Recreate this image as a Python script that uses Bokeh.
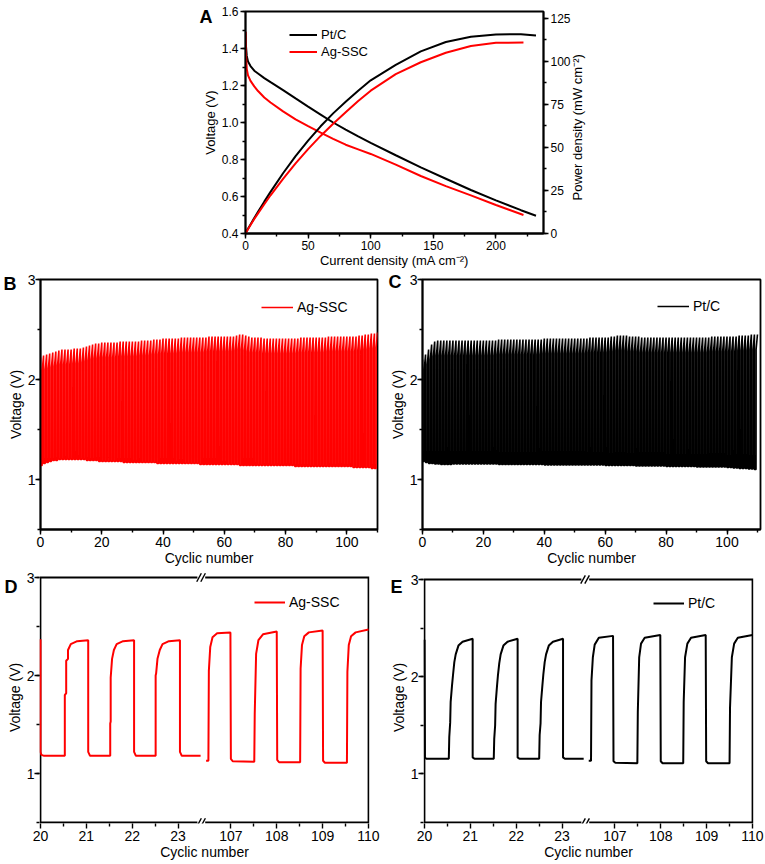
import math
import numpy as np
from bokeh.plotting import figure
from bokeh.layouts import column, row
from bokeh.models import (Range1d, LinearAxis, SingleIntervalTicker, FixedTicker, Legend,
                          LegendItem, CustomJSTickFormatter, PrintfTickFormatter)
from bokeh.embed import file_html
from bokeh.resources import INLINE

# ---------------- Panel A data (polarisation / power density) ----------------
CURRENT_PT = [0, 0.3, 1, 2, 4, 7, 10, 15, 20, 30, 40, 50, 60, 70, 80, 90, 100, 120, 140, 160, 180, 200, 220, 232]
VOLT_PT = [1.49, 1.42, 1.36, 1.33, 1.305, 1.28, 1.265, 1.24, 1.218, 1.175, 1.13, 1.086, 1.043, 1.0, 0.962,
           0.925, 0.89, 0.823, 0.757, 0.696, 0.635, 0.579, 0.526, 0.496]
POWER_PT = [0, 0.4, 1.4, 2.7, 5.2, 9.0, 12.6, 18.5, 24.2, 35.0, 45.0, 54.0, 62.3, 69.8, 76.5, 83.0, 89.0,
            98.0, 105.8, 111.3, 114.3, 115.7, 115.8, 115.0]
CURRENT_AG = [0, 0.3, 1, 2, 4, 7, 10, 15, 20, 30, 40, 50, 60, 70, 80, 90, 100, 120, 140, 160, 180, 200, 222]
VOLT_AG = [1.49, 1.38, 1.29, 1.255, 1.225, 1.195, 1.17, 1.135, 1.108, 1.06, 1.017, 0.98, 0.945, 0.912, 0.88,
           0.855, 0.83, 0.772, 0.711, 0.656, 0.606, 0.554, 0.5]
POWER_AG = [0, 0.4, 1.3, 2.5, 4.9, 8.4, 11.7, 17.0, 22.2, 31.8, 40.7, 49.0, 56.7, 63.8, 70.4, 77.0, 83.0,
            92.6, 99.5, 105.0, 109.0, 110.8, 111.0]

# ---------------- Panels B / C: per-cycle charge (high) and discharge (low) voltages ----------------
AG_HIGH = [2.22, 2.24, 2.25, 2.26, 2.27, 2.28, 2.29, 2.30, 2.30, 2.30,
           2.30, 2.31, 2.31, 2.31, 2.32, 2.33, 2.34, 2.35, 2.36, 2.36,
           2.37, 2.37, 2.37, 2.37, 2.37, 2.37, 2.38, 2.38, 2.38, 2.38,
           2.38, 2.38, 2.38, 2.39, 2.39, 2.39, 2.39, 2.40, 2.40, 2.40,
           2.41, 2.41, 2.41, 2.41, 2.41, 2.41, 2.42, 2.42, 2.42, 2.42,
           2.42, 2.42, 2.42, 2.42, 2.42, 2.43, 2.43, 2.43, 2.43, 2.43,
           2.43, 2.43, 2.43, 2.43, 2.44, 2.45, 2.45, 2.44, 2.43, 2.42,
           2.42, 2.42, 2.42, 2.41, 2.41, 2.41, 2.41, 2.41, 2.41, 2.41,
           2.41, 2.41, 2.41, 2.41, 2.41, 2.42, 2.42, 2.42, 2.42, 2.42,
           2.42, 2.42, 2.42, 2.42, 2.43, 2.43, 2.43, 2.43, 2.43, 2.43,
           2.43, 2.43, 2.43, 2.43, 2.44, 2.44, 2.45, 2.45, 2.46, 2.46,
           2.47]
AG_LOW = [1.14, 1.16, 1.17, 1.18, 1.19, 1.19, 1.20, 1.20, 1.20, 1.20,
          1.20, 1.20, 1.20, 1.20, 1.20, 1.19, 1.19, 1.19, 1.19, 1.18,
          1.18, 1.18, 1.18, 1.18, 1.18, 1.18, 1.18, 1.17, 1.17, 1.17,
          1.17, 1.17, 1.17, 1.17, 1.17, 1.17, 1.17, 1.17, 1.16, 1.16,
          1.16, 1.16, 1.16, 1.16, 1.16, 1.16, 1.16, 1.16, 1.16, 1.16,
          1.16, 1.16, 1.15, 1.15, 1.15, 1.15, 1.15, 1.15, 1.15, 1.15,
          1.15, 1.15, 1.15, 1.15, 1.15, 1.14, 1.14, 1.14, 1.14, 1.14,
          1.14, 1.14, 1.14, 1.14, 1.14, 1.14, 1.14, 1.14, 1.14, 1.14,
          1.14, 1.14, 1.14, 1.13, 1.13, 1.13, 1.13, 1.13, 1.13, 1.13,
          1.13, 1.13, 1.13, 1.13, 1.13, 1.13, 1.13, 1.13, 1.13, 1.13,
          1.13, 1.13, 1.12, 1.12, 1.12, 1.12, 1.12, 1.12, 1.11, 1.11,
          1.11]
PT_HIGH = [2.20, 2.25, 2.30, 2.35, 2.38, 2.39, 2.39, 2.39, 2.39, 2.39,
           2.39, 2.39, 2.39, 2.39, 2.39, 2.39, 2.39, 2.39, 2.39, 2.39,
           2.39, 2.39, 2.39, 2.39, 2.39, 2.40, 2.40, 2.40, 2.40, 2.40,
           2.40, 2.40, 2.40, 2.40, 2.40, 2.40, 2.40, 2.40, 2.40, 2.40,
           2.41, 2.41, 2.41, 2.41, 2.41, 2.41, 2.41, 2.41, 2.41, 2.41,
           2.41, 2.41, 2.41, 2.41, 2.41, 2.42, 2.42, 2.42, 2.42, 2.42,
           2.42, 2.42, 2.43, 2.43, 2.44, 2.44, 2.44, 2.44, 2.43, 2.43,
           2.43, 2.43, 2.42, 2.42, 2.42, 2.42, 2.42, 2.42, 2.42, 2.42,
           2.42, 2.42, 2.42, 2.42, 2.42, 2.42, 2.42, 2.42, 2.42, 2.42,
           2.42, 2.42, 2.42, 2.42, 2.42, 2.43, 2.43, 2.43, 2.43, 2.43,
           2.43, 2.43, 2.43, 2.43, 2.44, 2.44, 2.44, 2.44, 2.45, 2.45,
           2.45]
PT_LOW = [1.18, 1.17, 1.16, 1.16, 1.155, 1.155, 1.15, 1.15, 1.15, 1.15,
          1.155, 1.155, 1.155, 1.155, 1.155, 1.155, 1.155, 1.155, 1.155, 1.155,
          1.155, 1.155, 1.155, 1.155, 1.155, 1.15, 1.15, 1.15, 1.15, 1.15,
          1.15, 1.15, 1.15, 1.15, 1.15, 1.15, 1.15, 1.15, 1.15, 1.15,
          1.145, 1.145, 1.145, 1.145, 1.145, 1.145, 1.145, 1.145, 1.145, 1.145,
          1.145, 1.145, 1.145, 1.145, 1.145, 1.145, 1.145, 1.145, 1.145, 1.145,
          1.14, 1.14, 1.14, 1.14, 1.14, 1.14, 1.14, 1.14, 1.14, 1.14,
          1.135, 1.135, 1.135, 1.135, 1.135, 1.135, 1.135, 1.135, 1.135, 1.135,
          1.13, 1.13, 1.13, 1.13, 1.13, 1.13, 1.13, 1.13, 1.13, 1.13,
          1.125, 1.125, 1.125, 1.125, 1.125, 1.125, 1.125, 1.125, 1.125, 1.125,
          1.12, 1.12, 1.115, 1.115, 1.11, 1.11, 1.11, 1.105, 1.105, 1.10,
          1.10]

# ---------------- Panels D / E: detailed profiles (cycle number, voltage) ----------------
D1_C = [20.0, 20.0, 20.02, 20.08, 20.53, 20.53, 20.56, 20.56, 20.6, 20.6, 20.66, 20.8, 21.04,
        21.04, 21.08, 21.52, 21.52, 21.53, 21.53, 21.56, 21.6, 21.66, 21.8, 22.04,
        22.04, 22.08, 22.51, 22.51, 22.52, 22.55, 22.6, 22.66, 22.8, 23.04, 23.04, 23.08, 23.49]
D1_V = [2.37, 1.22, 1.19, 1.18, 1.18, 1.80, 1.82, 2.15, 2.17, 2.26, 2.32, 2.35, 2.36,
        1.22, 1.18, 1.18, 1.51, 1.53, 1.98, 2.17, 2.26, 2.32, 2.35, 2.36,
        1.22, 1.18, 1.18, 2.0, 2.02, 2.17, 2.26, 2.32, 2.35, 2.36, 1.22, 1.18, 1.18]
D2_C = [106.46, 106.51, 106.52, 106.55, 106.6, 106.7, 106.99, 107.0, 107.04, 107.51, 107.52, 107.55,
        107.6, 107.7, 108.0, 108.01, 108.05, 108.51, 108.52, 108.55, 108.6, 108.7, 109.0, 109.01,
        109.05, 109.53, 109.54, 109.57, 109.62, 109.72, 110.0]
D2_V = [1.13, 1.13, 2.05, 2.29, 2.39, 2.43, 2.44, 1.15, 1.125, 1.12, 1.61, 2.22, 2.36, 2.42, 2.45,
        1.14, 1.115, 1.115, 2.07, 2.31, 2.40, 2.44, 2.46, 1.13, 1.11, 1.11, 2.04, 2.31, 2.40, 2.44, 2.47]
E1_C = [20.0, 20.01, 20.04, 20.53, 20.54, 20.56, 20.57, 20.6, 20.62, 20.65, 20.68, 20.74, 20.83, 21.05,
        21.05, 21.09, 21.51, 21.52, 21.54, 21.55, 21.58, 21.6, 21.63, 21.66, 21.72, 21.81, 22.03,
        22.03, 22.07, 22.5, 22.51, 22.53, 22.54, 22.57, 22.59, 22.62, 22.65, 22.71, 22.8, 23.02,
        23.02, 23.06, 23.47]
E1_V = [2.38, 1.17, 1.155, 1.155, 1.38, 1.53, 1.74, 1.91, 2.01, 2.15, 2.23, 2.32, 2.36, 2.39,
        1.17, 1.155, 1.155, 1.36, 1.50, 1.72, 1.90, 2.01, 2.14, 2.23, 2.32, 2.36, 2.39,
        1.17, 1.155, 1.155, 1.40, 1.52, 1.74, 1.91, 2.02, 2.15, 2.23, 2.32, 2.36, 2.39,
        1.17, 1.155, 1.155]
E2_C = [106.43, 106.48, 106.49, 106.52, 106.56, 106.65, 106.96, 106.97, 107.01, 107.49, 107.5, 107.53,
        107.57, 107.65, 107.99, 108.0, 108.04, 108.49, 108.5, 108.53, 108.58, 108.66, 108.98, 108.99,
        109.03, 109.5, 109.51, 109.55, 109.6, 109.68, 110.0]
E2_V = [1.135, 1.135, 1.96, 2.20, 2.33, 2.40, 2.42, 1.13, 1.115, 1.11, 1.64, 2.20, 2.34, 2.40, 2.43,
        1.13, 1.11, 1.11, 1.74, 2.20, 2.34, 2.40, 2.43, 1.13, 1.11, 1.11, 1.68, 2.20, 2.34, 2.40, 2.43]

BREAK_TICKS = [20, 21, 22, 23, 107, 108, 109, 110]
POWER_LABEL = "Power density (mW cm\u207b\u00b2)"

FONT = "Liberation Sans"
RED = "#ff0000"
BLACK = "#000000"
LW = 1.8


def style_axis(ax, fs_tick, fs_label, tick_standoff=2, label_standoff=2):
    ax.axis_line_width = LW
    ax.axis_line_color = BLACK
    ax.major_tick_out = 5
    ax.major_tick_in = 0
    ax.minor_tick_out = 3
    ax.minor_tick_in = 0
    ax.major_tick_line_width = 1.4
    ax.minor_tick_line_width = 1.4
    ax.major_tick_line_color = BLACK
    ax.minor_tick_line_color = BLACK
    ax.major_label_text_font = FONT
    ax.major_label_text_font_size = fs_tick
    ax.major_label_text_color = BLACK
    ax.major_label_standoff = tick_standoff
    ax.axis_label_text_font = FONT
    ax.axis_label_text_font_size = fs_label
    ax.axis_label_text_font_style = "normal"
    ax.axis_label_text_color = BLACK
    ax.axis_label_standoff = label_standoff


def make_fig(w, h, xr, yr, bl, br, bt, bb, outline=True):
    p = figure(width=w, height=h, x_range=xr, y_range=yr, output_backend="svg",
               toolbar_location=None, min_border_left=bl, min_border_right=br,
               min_border_top=bt, min_border_bottom=bb)
    p.grid.visible = False
    p.outline_line_color = BLACK if outline else None
    p.outline_line_width = LW
    p.background_fill_color = "white"
    p.border_fill_color = "white"
    return p


def label_axis(p, side, tick, txt, standoff, size="18px", bold=True, orientation=None, range_name="default"):
    """A line-less, tick-less extra axis whose single label carries a piece of text."""
    ax = LinearAxis(ticker=FixedTicker(ticks=[tick], minor_ticks=[]),
                    formatter=CustomJSTickFormatter(code="return '%s';" % txt),
                    y_range_name=range_name)
    ax.axis_line_color = None
    ax.major_tick_line_color = None
    ax.minor_tick_line_color = None
    ax.major_tick_out = 0
    ax.major_tick_in = 0
    ax.minor_tick_out = 0
    ax.major_label_standoff = standoff
    ax.major_label_text_font = FONT
    ax.major_label_text_font_size = size
    ax.major_label_text_font_style = "bold" if bold else "normal"
    ax.major_label_text_color = BLACK
    if orientation is not None:
        ax.major_label_orientation = orientation
    p.add_layout(ax, side)


def legend(p, items, x, y, fs, gh, gw, spacing=0):
    lg = Legend(items=items, location=(x, y), padding=0, margin=0, spacing=spacing,
                glyph_height=gh, glyph_width=gw, label_height=gh, label_standoff=4,
                label_text_font=FONT, label_text_font_size=fs, label_text_color=BLACK,
                border_line_alpha=0, background_fill_alpha=0)
    p.add_layout(lg)


def cycle_trace(high, low):
    xs, ys = [], []
    for n in range(len(high) - 1):
        xs += [n, n, n + 0.53, n + 0.56]
        ys += [high[n], low[n], low[n], high[n + 1] - 0.15]
    xs.append(len(high) - 1)
    ys.append(high[-1])
    return xs, ys


# ================= Panel A =================
xa = Range1d(0, 238)
ya = Range1d(0.4, 1.6)
pa = make_fig(764, 271, xa, ya, 245, 221, 11, 38)
pa.extra_y_ranges = {"pd": Range1d(0, 129)}
pa.xaxis.ticker = SingleIntervalTicker(interval=50, num_minor_ticks=2)
pa.yaxis.ticker = SingleIntervalTicker(interval=0.2, num_minor_ticks=2)
pa.yaxis.formatter = PrintfTickFormatter(format="%.1f")
pa.xaxis.axis_label = "Current density (mA cm\u207b\u00b2)"
pa.yaxis.axis_label = "Voltage (V)"
right_ax = LinearAxis(y_range_name="pd", ticker=SingleIntervalTicker(interval=25, num_minor_ticks=2))
pa.add_layout(right_ax, "right")
for ax in [pa.xaxis[0], pa.yaxis[0], right_ax]:
    style_axis(ax, "12px", "13px", 2, 1)
pa.xaxis.axis_label_standoff = 0
# right-hand title, reading bottom-to-top, starting 33 px above the frame bottom
label_axis(pa, "right", 33 / 222.0 * 129, POWER_LABEL, 4, size="13px", bold=False,
           orientation=math.pi / 2, range_name="pd")

r_pt = pa.line(CURRENT_PT, VOLT_PT, line_color=BLACK, line_width=2)
r_ag = pa.line(CURRENT_AG, VOLT_AG, line_color=RED, line_width=2)
pa.line(CURRENT_PT, POWER_PT, y_range_name="pd", line_color=BLACK, line_width=2)
pa.line(CURRENT_AG, POWER_AG, y_range_name="pd", line_color=RED, line_width=2)
legend(pa, [LegendItem(label="Pt/C", renderers=[r_pt]), LegendItem(label="Ag-SSC", renderers=[r_ag])],
       44, 173, "13px", 17, 28, spacing=-1)
label_axis(pa, "left", 1.6 - 5 / 185.0, "A", -13)


# ================= Panels B / C =================
def cycling_panel(w, bl, br, xend, high, low, color, name, lx, ly, let, let_y, lst):
    xr = Range1d(0, xend)
    yr = Range1d(0.5, 3)
    p = make_fig(w, 298, xr, yr, bl, br, 8, 40)
    p.xaxis.ticker = SingleIntervalTicker(interval=20, num_minor_ticks=2)
    p.yaxis.ticker = SingleIntervalTicker(interval=1, num_minor_ticks=2)
    p.xaxis.axis_label = "Cyclic number"
    p.yaxis.axis_label = "Voltage (V)"
    style_axis(p.xaxis[0], "14px", "14px", 2, 0)
    style_axis(p.yaxis[0], "14px", "14px", 0, 1)
    xs, ys = cycle_trace(high, low)
    r = p.line(xs, ys, line_color=color, line_width=1.6)
    legend(p, [LegendItem(label=name, renderers=[r])], lx, ly, "14px", 16, 32)
    label_axis(p, "left", let_y, let, lst)
    return p


pb = cycling_panel(384, 40, 7, 110, AG_HIGH, AG_LOW, RED, "Ag-SSC", 221, 214.3, "B", 3.0, -12)
pc = cycling_panel(380, 38, 4, 111, PT_HIGH, PT_LOW, BLACK, "Pt/C", 235, 215.3, "C", 2.985, -15)


# ================= Panels D / E (broken axis) =================
def to_u(cycles):
    c = np.asarray(cycles, dtype=float)
    return np.where(c < 60, (c - 20) * 100, (c - 107) * 100 + 415)


def detail_panel(w, bl, br, t_px, c1, v1, c2, v2, color, name, lx, ly, let, let_px, lst):
    fw, fh, bt = 330, 252, 2
    tick_u = [int(round(u)) for u in to_u(BREAK_TICKS)]
    u_end = tick_u[-1]
    kx = (fw - 2) / u_end               # px per unit
    ky = (fh - 1 - t_px) / 2.5          # px per volt
    xr = Range1d(-1 / kx, u_end + 1 / kx)
    yr = Range1d(0.5 - 1 / ky, 3 + t_px / ky)
    p = make_fig(w, 294, xr, yr, bl, br, bt, 294 - bt - fh, outline=False)
    p.xaxis.ticker = FixedTicker(ticks=tick_u, minor_ticks=[50, 150, 250, 465, 565, 665])
    p.xaxis.formatter = CustomJSTickFormatter(
        code="const m = {%s}; return m[tick] !== undefined ? m[tick] : '';" %
             ", ".join("%d: '%d'" % (u, c) for u, c in zip(tick_u, BREAK_TICKS)))
    p.yaxis.ticker = SingleIntervalTicker(interval=1, num_minor_ticks=2)
    p.xaxis.axis_label = "Cyclic number"
    p.yaxis.axis_label = "Voltage (V)"
    style_axis(p.xaxis[0], "14px", "14px", 2, 0)
    style_axis(p.yaxis[0], "14px", "14px", 0, 1)
    p.xaxis.axis_line_color = None
    p.yaxis.axis_line_color = None
    # frame with a break in the top and bottom edges
    gap0, gap1 = 342, 359
    p.multi_line(xs=[[gap0, 0, 0, gap0], [gap1, u_end, u_end, gap1]],
                 ys=[[3, 3, 0.5, 0.5], [3, 3, 0.5, 0.5]],
                 line_color=BLACK, line_width=LW, line_join="miter")
    sx, sy = 10.0, 0.043
    brk_x, brk_y = [], []
    for yb in (3.0, 0.5):
        for xc in (345.6, 354.4):
            brk_x.append([xc - sx / 2, xc + sx / 2])
            brk_y.append([yb - sy, yb + sy])
    p.multi_line(xs=brk_x, ys=brk_y, line_color=BLACK, line_width=1.4)
    r = p.line(to_u(c1), v1, line_color=color, line_width=2)
    p.line(to_u(c2), v2, line_color=color, line_width=2)
    legend(p, [LegendItem(label=name, renderers=[r])], lx, ly, "14px", 16, 31)
    label_axis(p, "left", 3 + let_px / ky, let, lst)
    return p


pd_ = detail_panel(384, 39, 15, 6, D1_C, D1_V, D2_C, D2_V, RED, "Ag-SSC", 215, 213.3, "D", 5, -14)
pe = detail_panel(380, 39, 11, 8, E1_C, E1_V, E2_C, E2_V, BLACK, "Pt/C", 230, 212, "E", 7, -15)

layout = column(pa, row(pb, pc), row(pd_, pe))
open("out.html", "w").write(file_html(layout, INLINE))
